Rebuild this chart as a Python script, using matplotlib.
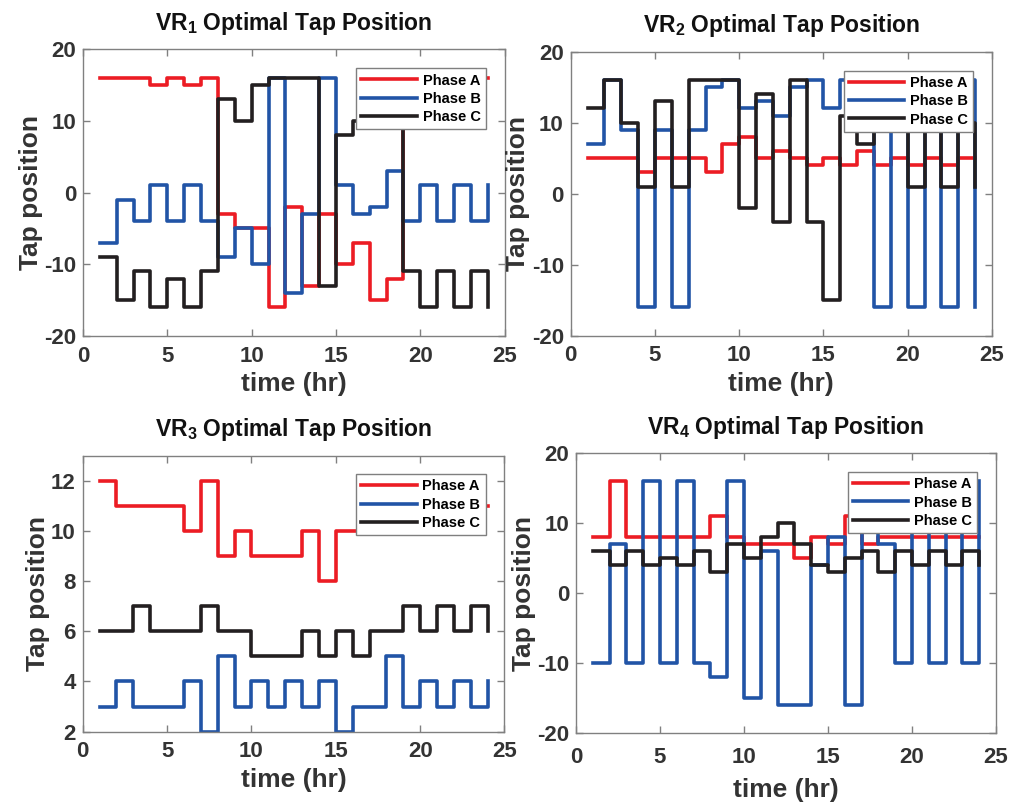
import matplotlib
matplotlib.use("Agg")
import matplotlib.pyplot as plt
import numpy as np

plt.rcParams['font.family'] = ['Liberation Sans', 'DejaVu Sans']
plt.rcParams['font.weight'] = 'bold'
plt.rcParams['axes.labelweight'] = 'bold'
plt.rcParams['axes.unicode_minus'] = False
plt.rcParams['mathtext.fontset'] = 'custom'
plt.rcParams['mathtext.rm'] = 'Liberation Sans'
plt.rcParams['mathtext.bf'] = 'Liberation Sans:bold'

# ---------------------------------------------------------------
# Données : position des prises par heure (1..24)
# ---------------------------------------------------------------
hours = np.arange(1, 25)
phases = ['Phase A', 'Phase B', 'Phase C']

vr1_a = [16, 16, 16, 15, 16, 15, 16, -3, -5, -5, -16, -2, -13, -3, -10, -7, -15, -12, 16, 16, 16, 16, 16, 16]
vr1_b = [-7, -1, -4, 1, -4, 1, -4, -9, -5, -10, 16, -14, -3, 16, 1, -3, -2, 3, -4, 1, -4, 1, -4, 1]
vr1_c = [-9, -15, -11, -16, -12, -16, -11, 13, 10, 15, 16, 16, 16, -13, 8, 10, 10, 10, -11, -16, -11, -16, -11, -16]

vr2_a = [5, 5, 5, 3, 5, 5, 5, 3, 7, 8, 5, 6, 5, 4, 5, 4, 6, 4, 5, 4, 5, 4, 5, 5]
vr2_b = [7, 16, 9, -16, 9, -16, 9, 15, 16, 12, 13, 11, 15, 16, 12, 16, 16, -16, 16, -16, 16, -16, 16, -16]
vr2_c = [12, 16, 10, 1, 13, 1, 16, 16, 16, -2, 14, -4, 16, -4, -15, 11, 7, 10, 10, 1, 10, 1, 10, 1]

vr3_a = [12, 11, 11, 11, 11, 10, 12, 9, 10, 9, 9, 9, 10, 8, 10, 10, 10, 10, 10, 10, 10, 10, 11, 11]
vr3_b = [3, 4, 3, 3, 3, 4, 2, 5, 3, 4, 3, 4, 3, 4, 2, 3, 3, 5, 3, 4, 3, 4, 3, 4]
vr3_c = [6, 6, 7, 6, 6, 6, 7, 6, 6, 5, 5, 5, 6, 5, 6, 5, 6, 6, 7, 6, 7, 6, 7, 6]

vr4_a = [8, 16, 8, 8, 8, 8, 8, 11, 8, 7, 7, 7, 5, 8, 7, 11, 7, 8, 8, 8, 8, 8, 8, 8]
vr4_b = [-10, 7, -10, 16, -10, 16, -10, -12, 16, -15, 6, -16, -16, 4, 8, -16, 16, 7, -10, 16, -10, 16, -10, 16]
vr4_c = [6, 4, 6, 4, 5, 4, 6, 3, 7, 5, 8, 10, 7, 4, 3, 5, 6, 3, 6, 4, 6, 4, 6, 4]

colors = ['#ec1c24', '#2154a6', '#231f20']
spine_col = '#808080'
text_col = '#333333'


def draw_panel(ax, series, num, ylim, yticks, xpad=7, xlabpad=4):
    """Trace un régulateur : trois marches (stairs) + légende"""
    for vals, col, lab in zip(series, colors, phases):
        ax.step(hours, vals, where='post', color=col, lw=2.6, label=lab)
    ax.set_xlim(0, 25)
    ax.set_ylim(*ylim)
    ax.set_xticks(np.arange(0, 26, 5))
    ax.set_yticks(yticks)
    ax.tick_params(direction='in', top=True, right=True, length=5,
                   width=1, color=spine_col, labelsize=16,
                   labelcolor=text_col)
    ax.tick_params(axis='x', pad=xpad)
    ax.tick_params(axis='y', pad=5)
    for s in ax.spines.values():
        s.set_color(spine_col)
        s.set_linewidth(1)
    ax.set_xlabel('time (hr)', fontsize=19, fontweight='bold',
                  color=text_col, labelpad=xlabpad)
    ax.set_ylabel('Tap position', fontsize=19, fontweight='bold',
                  color=text_col, labelpad=1)
    ax.set_title(r'VR$_{\mathbf{%d}}$ Optimal Tap Position' % num,
                 fontsize=16.5, fontweight='bold', color='#111111', pad=14)
    leg = ax.legend(loc='upper right', bbox_to_anchor=(0.955, 0.933),
                    borderaxespad=0, fontsize=10.5, handlelength=3.8,
                    labelspacing=0.3, borderpad=0.35, handletextpad=0.4,
                    fancybox=False, framealpha=1, edgecolor='#7f7f7f')
    leg.get_frame().set_linewidth(1)


fig = plt.figure(figsize=(10.11, 8.05), dpi=100)
ax1 = fig.add_axes([0.0821, 0.5826, 0.4171, 0.3562])
ax2 = fig.add_axes([0.5645, 0.5830, 0.4167, 0.3528])
ax3 = fig.add_axes([0.0818, 0.0911, 0.4172, 0.3428])
ax4 = fig.add_axes([0.5697, 0.0891, 0.4155, 0.3478])

draw_panel(ax1, [vr1_a, vr1_b, vr1_c], 1, (-20, 20), np.arange(-20, 21, 10))
draw_panel(ax2, [vr2_a, vr2_b, vr2_c], 2, (-20, 20), np.arange(-20, 21, 10))
draw_panel(ax3, [vr3_a, vr3_b, vr3_c], 3, (2, 13), np.arange(2, 13, 2))
draw_panel(ax4, [vr4_a, vr4_b, vr4_c], 4, (-20, 20), np.arange(-20, 21, 10),
           xpad=10, xlabpad=7)

fig.savefig('out.png', dpi=100)
